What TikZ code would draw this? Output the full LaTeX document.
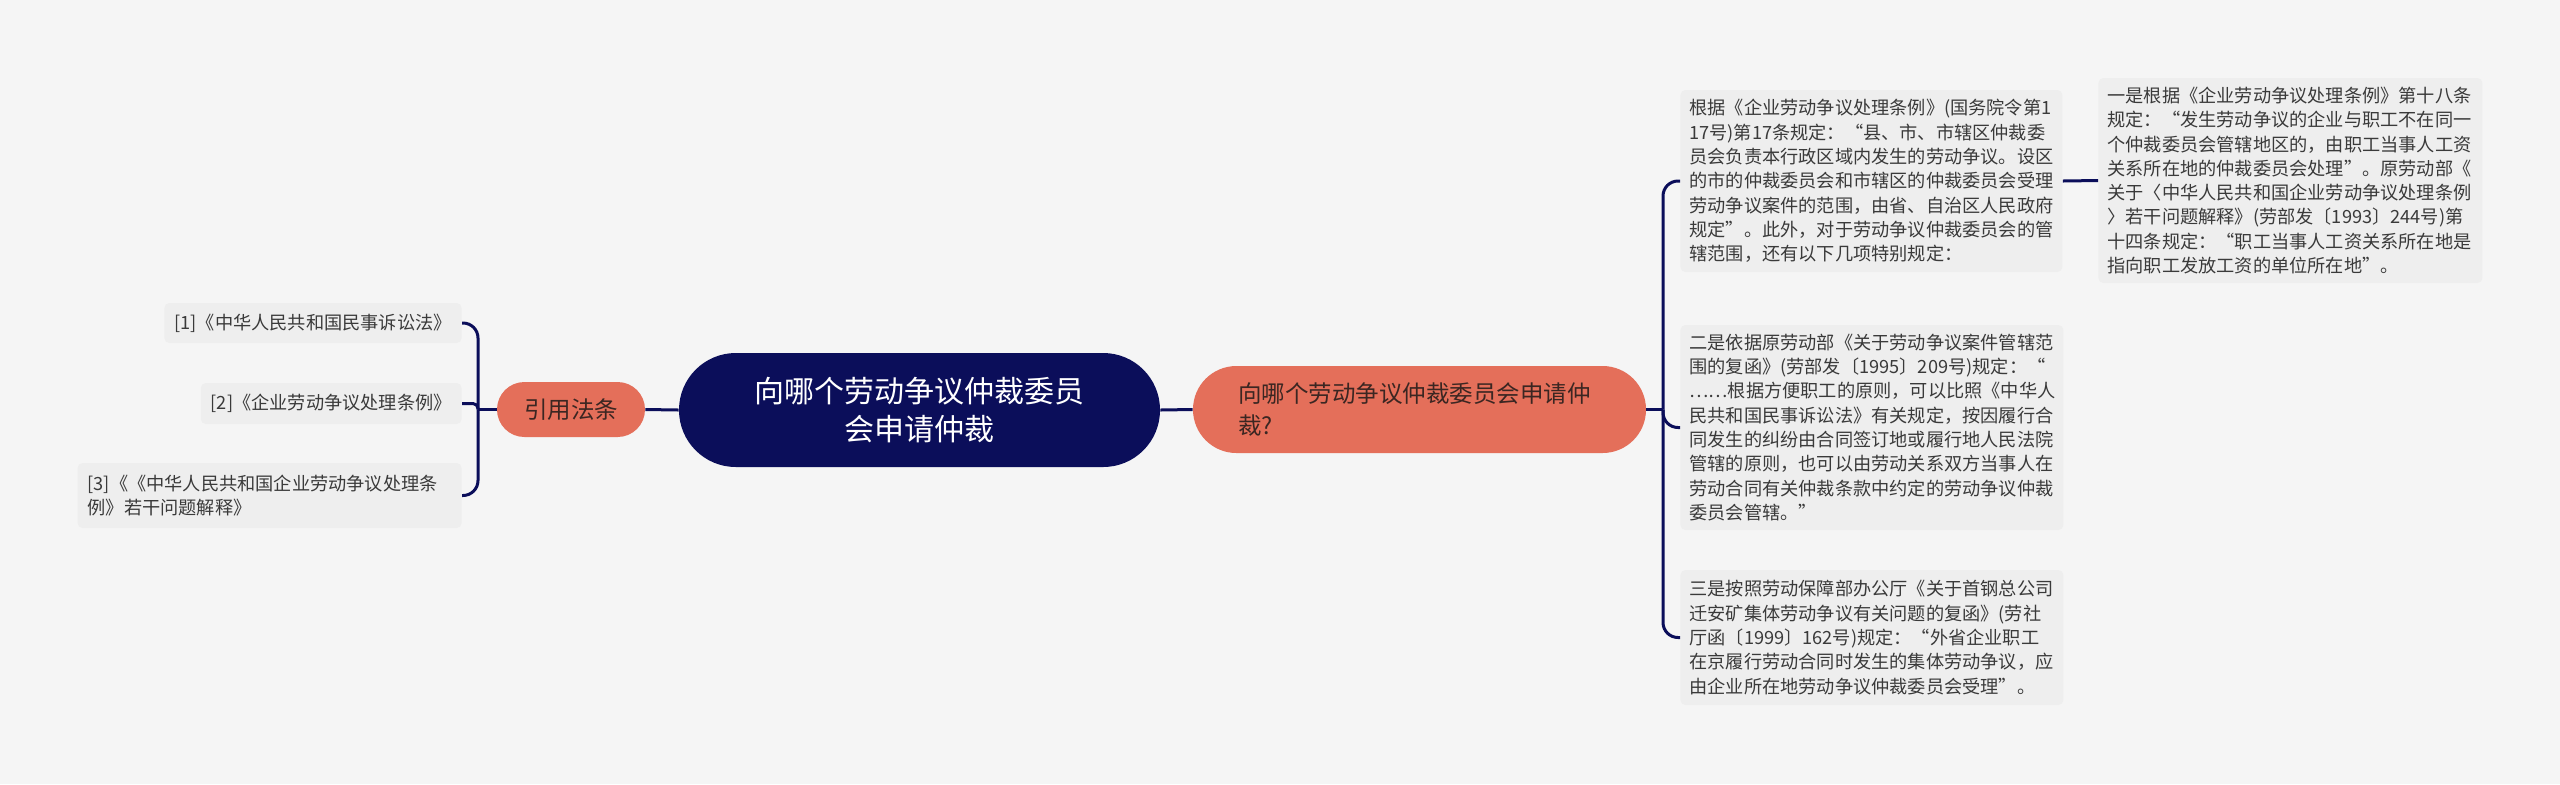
\documentclass[tikz,border=0pt]{standalone}
\usepackage{fontspec}
\setmainfont{Noto Sans CJK SC}
\definecolor{bgcol}{HTML}{F5F5F5}
\definecolor{leafgray}{HTML}{EEEEEE}
\definecolor{leaftext}{HTML}{3A3A3A}
\definecolor{navy}{HTML}{0B0E5A}
\definecolor{salmon}{HTML}{E46F5A}
\definecolor{salmontext}{HTML}{3B2622}

\begin{document}
\begin{tikzpicture}[x=0.5pt, y=-0.5pt,
  link/.style={draw=navy, line width=1.5pt},
  leaf/.style={fill=leafgray, rounded corners=2.5pt, text=leaftext, align=left,
    font=\fontsize{9.1}{12.15}\selectfont, inner xsep=4.5pt, inner ysep=0pt},
  topic/.style={fill=salmon, text=salmontext, inner sep=0pt,
    font=\fontsize{11.75}{16}\selectfont}]
\fill[bgcol] (0,0) rectangle (2560,784);
\useasboundingbox (0,0) rectangle (2560,784);

% centre and first level
\node[fill=navy, text=white, rounded corners=28.4pt, minimum width=240.5pt, minimum height=57pt,
  inner sep=0pt, align=center, font=\fontsize{15}{19}\selectfont] (root) at (919.5,410)
  {向哪个劳动争议仲裁委员\\会申请仲裁};
\node[topic, minimum width=74pt, minimum height=27.5pt, rounded corners=13.7pt] (yin) at (571,409.5) {引用法条};
\node[topic, minimum width=226.5pt, minimum height=43.5pt, rounded corners=21.7pt,
  text width=181.5pt, inner xsep=22.5pt, align=left] (q) at (1419.5,409.5)
  {向哪个劳动争议仲裁委员会申请仲\\裁?};

% left leaves
\node[leaf, anchor=east, minimum height=20pt, inner xsep=5pt] (l1) at (462,323) {[1]《中华人民共和国民事诉讼法》};
\node[leaf, anchor=east, minimum height=20.5pt, inner xsep=5pt] (l2) at (462,403.5) {[2]《企业劳动争议处理条例》};
\node[leaf, anchor=east, minimum height=32.5pt, inner xsep=5pt, text width=182pt] (l3) at (462,495.5)
  {[3]《《中华人民共和国企业劳动争议处理条\\例》若干问题解释》};

% right leaves
\node[leaf, anchor=west, text width=182pt, minimum height=91pt] (r1) at (1680,181)
  {根据《企业劳动争议处理条例》(国务院令第1\\17号)第17条规定：“县、市、市辖区仲裁委\\员会负责本行政区域内发生的劳动争议。设区\\的市的仲裁委员会和市辖区的仲裁委员会受理\\劳动争议案件的范围，由省、自治区人民政府\\规定”。此外，对于劳动争议仲裁委员会的管\\辖范围，还有以下几项特别规定：};
\node[leaf, anchor=west, text width=183pt, minimum height=102.5pt] (r4) at (2098,180.5)
  {一是根据《企业劳动争议处理条例》第十八条\\规定：“发生劳动争议的企业与职工不在同一\\个仲裁委员会管辖地区的，由职工当事人工资\\关系所在地的仲裁委员会处理”。原劳动部《\\关于〈中华人民共和国企业劳动争议处理条例\\〉若干问题解释》(劳部发〔1993〕244号)第\\十四条规定：“职工当事人工资关系所在地是\\指向职工发放工资的单位所在地”。};
\node[leaf, anchor=west, text width=182.5pt, minimum height=102.5pt] (r2) at (1680,427.5)
  {二是依据原劳动部《关于劳动争议案件管辖范\\围的复函》(劳部发〔1995〕209号)规定：“\\……根据方便职工的原则，可以比照《中华人\\民共和国民事诉讼法》有关规定，按因履行合\\同发生的纠纷由合同签订地或履行地人民法院\\管辖的原则，也可以由劳动关系双方当事人在\\劳动合同有关仲裁条款中约定的劳动争议仲裁\\委员会管辖。”};
\node[leaf, anchor=west, text width=182.5pt, minimum height=67.5pt] (r3) at (1680,637.5)
  {三是按照劳动保障部办公厅《关于首钢总公司\\迁安矿集体劳动争议有关问题的复函》(劳社\\厅函〔1999〕162号)规定：“外省企业职工\\在京履行劳动合同时发生的集体劳动争议，应\\由企业所在地劳动争议仲裁委员会受理”。};

% connectors
\coordinate (lj) at (478,409.5);
\coordinate (rj) at (1663,409.5);
\draw[link] (yin.east) -- (root.west);
\draw[link] (root.east) -- (q.west);
\draw[link] (yin.west) -- (lj);
\draw[link, rounded corners=7.5pt] (lj) |- (l1.east);
\draw[link, rounded corners=2.5pt] (lj) |- (l2.east);
\draw[link, rounded corners=7.5pt] (lj) |- (l3.east);
\draw[link] (q.east) -- (rj);
\draw[link, rounded corners=7.5pt] (rj) |- (r1.west);
\draw[link, rounded corners=7.5pt] (rj) |- (r2.west);
\draw[link, rounded corners=7.5pt] (rj) |- (r3.west);
\draw[link] (r1.east) -- (r4.west);
\end{tikzpicture}
\end{document}
